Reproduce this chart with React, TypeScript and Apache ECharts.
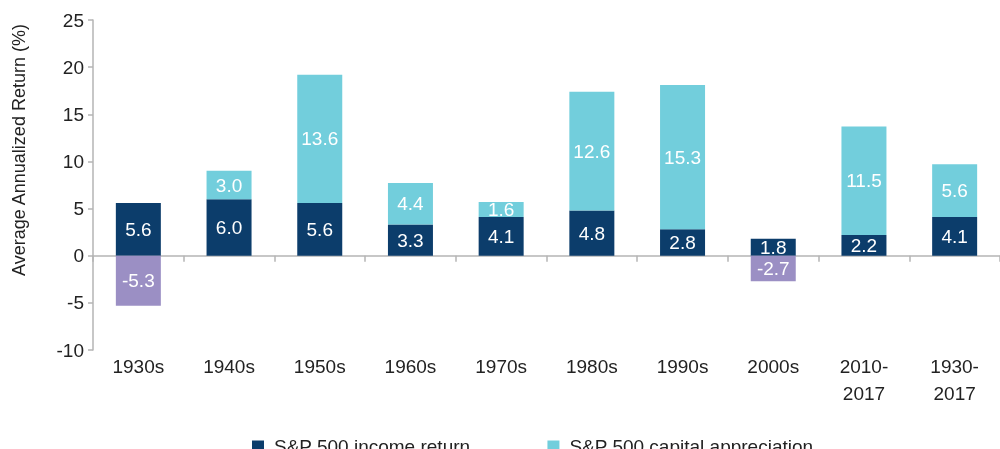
import React, { useEffect, useRef } from "react";
import * as echarts from "echarts";

const categories = ["1930s", "1940s", "1950s", "1960s", "1970s", "1980s", "1990s", "2000s", "2010-\n2017", "1930-\n2017"];
const incomeReturn = [5.6, 6.0, 5.6, 3.3, 4.1, 4.8, 2.8, 1.8, 2.2, 4.1];
const capitalAppreciation = [-5.3, 3.0, 13.6, 4.4, 1.6, 12.6, 15.3, -2.7, 11.5, 5.6];
const yTicks = { min: -10, max: 25, interval: 5 };

const NAVY = "#0c3d6b";
const CYAN = "#72cedc";
const PURPLE = "#9b8fc4";
const FONT = "'Liberation Sans', Arial, sans-serif";

export default function App() {
  const ref = useRef<HTMLDivElement>(null);
  useEffect(() => {
    if (!ref.current) return;
    const chart = echarts.init(ref.current, undefined, { renderer: "svg" });
    const labelCfg = {
      show: true,
      position: "inside",
      color: "#ffffff",
      fontSize: 19,
      fontFamily: FONT,
      formatter: (p: any) => Number(p.value).toFixed(1),
    };
    chart.setOption({
      animation: false,
      textStyle: { fontFamily: FONT },
      grid: { left: 93, top: 20, width: 908, height: 330, containLabel: false },
      legend: {
        left: 247,
        top: 432,
        itemWidth: 12,
        itemHeight: 12,
        itemGap: 77,
        icon: "rect",
        textStyle: { fontSize: 19, color: "#222", fontFamily: FONT, padding: [0, 0, 0, 5] },
        data: ["S&P 500 income return", "S&P 500 capital appreciation"],
      },
      graphic: [
        {
          type: "text",
          x: 19,
          y: 150,
          rotation: Math.PI / 2,
          style: {
            text: "Average Annualized Return (%)",
            fontSize: 18,
            fontFamily: FONT,
            fill: "#222",
            align: "center",
            verticalAlign: "middle",
          },
        },
      ],
      xAxis: [
        {
          type: "category",
          data: categories,
          position: "bottom",
          axisLine: { show: false, onZero: false },
          axisTick: { show: false },
          axisLabel: { fontSize: 19, color: "#222", fontFamily: FONT, lineHeight: 27, margin: 3, interval: 0 },
        },
        {
          type: "category",
          data: categories,
          position: "top",
          axisLine: { show: true, onZero: true, lineStyle: { color: "#b5b5b5", width: 1.5 } },
          axisTick: { show: true, inside: true, length: 6, lineStyle: { color: "#b5b5b5", width: 1.5 } },
          axisLabel: { show: false },
        },
      ],
      yAxis: {
        type: "value",
        min: yTicks.min,
        max: yTicks.max,
        interval: yTicks.interval,
        axisLine: { show: true, lineStyle: { color: "#b5b5b5", width: 1.5 } },
        axisTick: { show: true, length: 5, lineStyle: { color: "#b5b5b5", width: 1.5 } },
        splitLine: { show: false },
        axisLabel: { fontSize: 19, color: "#222", fontFamily: FONT, margin: 9 },
      },
      series: [
        {
          name: "S&P 500 income return",
          type: "bar",
          stack: "total",
          xAxisIndex: 0,
          barWidth: 45,
          itemStyle: { color: NAVY },
          label: labelCfg,
          data: incomeReturn,
        },
        {
          name: "S&P 500 capital appreciation",
          type: "bar",
          stack: "total",
          xAxisIndex: 0,
          barWidth: 45,
          itemStyle: { color: CYAN },
          label: labelCfg,
          data: capitalAppreciation.map((v) => (v < 0 ? { value: v, itemStyle: { color: PURPLE } } : v)),
        },
      ],
    });
    return () => chart.dispose();
  }, []);
  return <div ref={ref} style={{ position: "fixed", left: 0, top: 0, width: 1000, height: 449 }} />;
}
